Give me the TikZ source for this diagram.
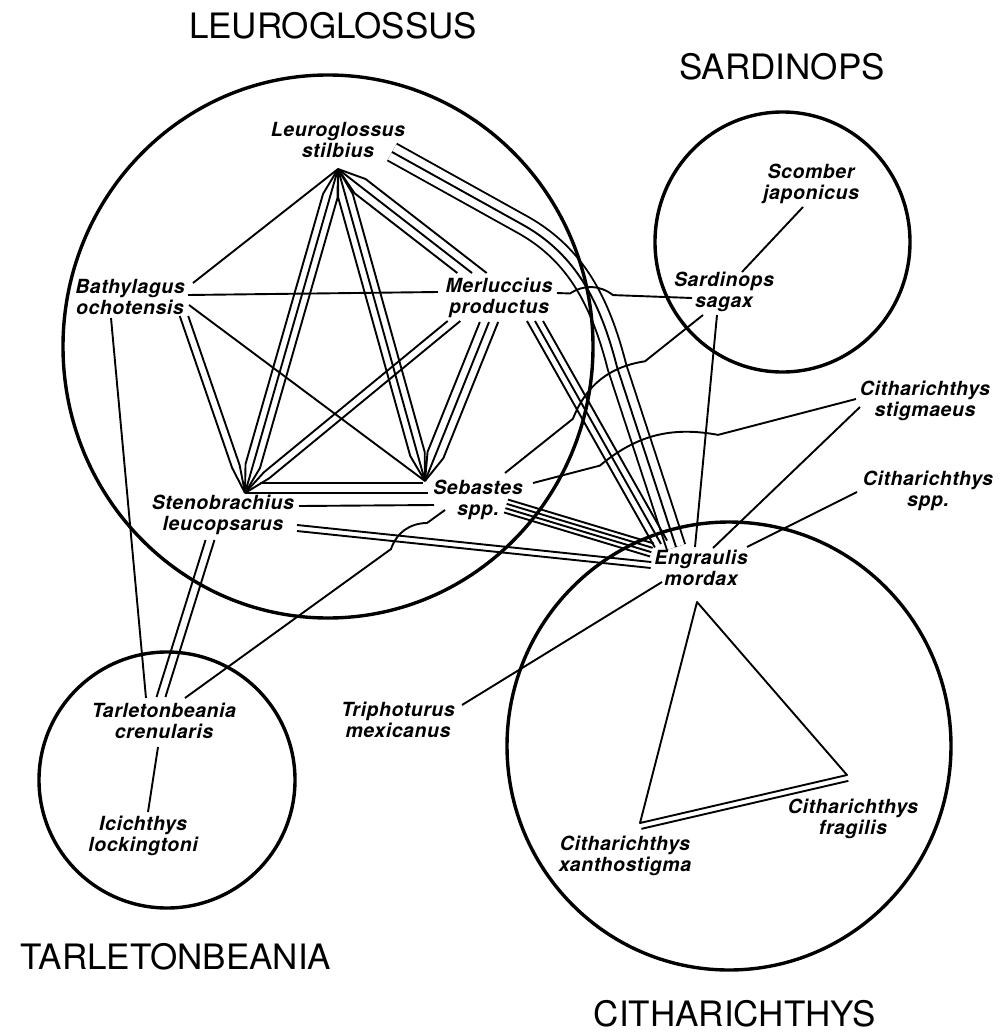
\documentclass[tikz,border=0pt]{standalone}
\usepackage{fontspec}
\setmainfont{TeX Gyre Heros}
\newfontfamily\labfont[LetterSpace=3]{TeX Gyre Heros}
\usetikzlibrary{calc,shapes.geometric}

\tikzset{
  cn/.style={line width=1.9pt, line join=round},
  grp/.style={ellipse, draw, line width=3.4pt, inner sep=0pt},
  lab/.style={font=\labfont\bfseries\itshape\fontsize{19.5}{21}\selectfont, align=center, inner sep=0pt},
  ttl/.style={font=\fontsize{35}{40}\selectfont, inner sep=0pt},
}

% bundle of parallel lines: #1 from, #2 to, #3 number, #4 spacing,
% #5/#6 end type: 0 converge, 1 horizontal cut, 2 vertical cut, 3 square cut
\newcommand\bund[6]{%
  \path (#1); \pgfgetlastxy{\bPX}{\bPY}%
  \path (#2); \pgfgetlastxy{\bQX}{\bQY}%
  \pgfmathsetmacro\bpx{\bPX}\pgfmathsetmacro\bpy{\bPY}%
  \pgfmathsetmacro\bqx{\bQX}\pgfmathsetmacro\bqy{\bQY}%
  \pgfmathsetmacro\bL{veclen((\bqx)-(\bpx),(\bqy)-(\bpy))}%
  \pgfmathsetmacro\bux{((\bqx)-(\bpx))/(\bL)}%
  \pgfmathsetmacro\buy{((\bqy)-(\bpy))/(\bL)}%
  \ifnum#5=0 \def\baP{28}\else\pgfmathsetmacro\baP{0.45*(\bL)}\fi
  \ifnum#6=0 \def\baQ{28}\else\pgfmathsetmacro\baQ{0.45*(\bL)}\fi
  \foreach \bi in {1,...,#3}{%
    \pgfmathsetmacro\bo{(\bi-(#3+1)/2)*(#4)}%
    \pgfmathsetmacro\bnx{-(\buy)*(\bo)}%
    \pgfmathsetmacro\bny{(\bux)*(\bo)}%
    \ifcase#5 \def\bsP{0}\or\pgfmathsetmacro\bsP{-(\bny)/(\buy)}\or\pgfmathsetmacro\bsP{-(\bnx)/(\bux)}\else\def\bsP{0}\fi
    \ifcase#6 \def\bsQ{0}\or\pgfmathsetmacro\bsQ{-(\bny)/(\buy)}\or\pgfmathsetmacro\bsQ{-(\bnx)/(\bux)}\else\def\bsQ{0}\fi
    \ifnum#5=0
      \edef\bSx{\bpx}\edef\bSy{\bpy}%
    \else
      \pgfmathsetmacro\bSx{(\bpx)+(\bnx)+(\bsP)*(\bux)}%
      \pgfmathsetmacro\bSy{(\bpy)+(\bny)+(\bsP)*(\buy)}%
    \fi
    \ifnum#6=0
      \edef\bEx{\bqx}\edef\bEy{\bqy}%
    \else
      \pgfmathsetmacro\bEx{(\bqx)+(\bnx)+(\bsQ)*(\bux)}%
      \pgfmathsetmacro\bEy{(\bqy)+(\bny)+(\bsQ)*(\buy)}%
    \fi
    \pgfmathsetmacro\bMx{(\bpx)+(\bnx)+(\baP)*(\bux)}%
    \pgfmathsetmacro\bMy{(\bpy)+(\bny)+(\baP)*(\buy)}%
    \pgfmathsetmacro\bNx{(\bqx)+(\bnx)-(\baQ)*(\bux)}%
    \pgfmathsetmacro\bNy{(\bqy)+(\bny)-(\baQ)*(\buy)}%
    \draw[cn] (\bSx pt,\bSy pt) -- (\bMx pt,\bMy pt) -- (\bNx pt,\bNy pt) -- (\bEx pt,\bEy pt);
  }%
}

\begin{document}
\begin{tikzpicture}[x=1pt,y=-1pt]
\useasboundingbox (0,0) rectangle (999,1036);

% ---------- titles ----------
\node[ttl] (tLeu) at (333,26) {LEUROGLOSSUS};
\node[ttl] (tSar) at (782,67) {SARDINOPS};
\node[ttl] (tTar) at (176,957) {TARLETONBEANIA};
\node[ttl] (tCit) at (735,1014) {CITHARICHTHYS};

% ---------- species ----------
\node[lab] (LS)  at (338,140) {Leuroglossus\\stilbius};
\node[lab] (BO)  at (130,297) {Bathylagus\\ochotensis};
\node[lab] (MP)  at (499,298) {Merluccius\\productus};
\node[lab] (SS)  at (724,292) {Sardinops\\sagax};
\node[lab] (SJ)  at (811,184) {Scomber\\japonicus};
\node[lab] (CSt) at (925,401) {Citharichthys\\stigmaeus};
\node[lab] (CSp) at (928,491) {Citharichthys\\spp.};
\node[lab] (SeS) at (478,500) {Sebastes\\spp.};
\node[lab] (StL) at (223,515) {Stenobrachius\\leucopsarus};
\node[lab] (EM)  at (701,568) {Engraulis\\mordax};
\node[lab] (TM)  at (398,720) {Triphoturus\\mexicanus};
\node[lab] (TC)  at (164,721) {Tarletonbeania\\crenularis};
\node[lab] (IL)  at (143,836) {Icichthys\\lockingtoni};
\node[lab] (CX)  at (625,856) {Citharichthys\\xanthostigma};
\node[lab] (CF)  at (853,819) {Citharichthys\\fragilis};

% ---------- attachment points ----------
\coordinate (vL) at (338,169);
\coordinate (vSt) at (245,493);
\coordinate (vSe) at (425,481);
\coordinate (bL) at (193,283);
\coordinate (bM) at (188,295);
\coordinate (bSe) at (189,305);
\coordinate (bSt) at (184,316);
\coordinate (bT) at (111,318);
\coordinate (mT) at (472,273);
\coordinate (mL) at (438,292);
\coordinate (mSt) at (454,321);
\coordinate (mSe) at (489,322);
\coordinate (mE) at (535,321);
\coordinate (mR) at (557,293);
\coordinate (stA) at (260,483);
\coordinate (stC) at (299,506);
\coordinate (stE) at (297,528);
\coordinate (stT) at (210,540);
\coordinate (seA) at (423,483);
\coordinate (seB) at (428,493);
\coordinate (seC) at (434,505);
\coordinate (seE) at (506,506);
\coordinate (seS) at (505,473);
\coordinate (seCs) at (533,483);
\coordinate (seT) at (445,510);
\coordinate (eL) at (676,547);
\coordinate (eM) at (661,544);
\coordinate (eSe) at (652,550);
\coordinate (eSt) at (651,565);
\coordinate (eS) at (695,547);
\coordinate (eC) at (713,548);
\coordinate (eCp) at (747,547);
\coordinate (eT) at (662,582);
\coordinate (sM) at (692,298);
\coordinate (sSe) at (703,315);
\coordinate (sE) at (717,315);
\coordinate (sJ) at (742,272);
\coordinate (jS) at (803,207);
\coordinate (cS) at (856,399);
\coordinate (cE) at (860,407);
\coordinate (cpE) at (857,492);
\coordinate (tE) at (462,705);
\coordinate (tB) at (146,698);
\coordinate (tSt) at (161,697);
\coordinate (tSe) at (185,698);
\coordinate (tI) at (158,747);
\coordinate (iT) at (148,812);
\coordinate (vA) at (697,602);
\coordinate (xV) at (640,823);
\coordinate (fV) at (847,775);
\coordinate (lS) at (392,152);
\coordinate (leA) at (525,226);
\coordinate (leB) at (617,367);

% ---------- Leuroglossus -- Engraulis (curved triple) ----------
\draw[cn, double, double distance=17.1pt] (lS) -- (leA) .. controls (575,255) and (600,300) .. (leB) -- (eL);
\draw[cn] (lS) -- (leA) .. controls (575,255) and (600,300) .. (leB) -- (eL);

% ---------- groups ----------
\node[grp, minimum width=530pt, minimum height=543pt] (gLeu) at (328,346.5) {};
\node[grp, minimum width=255pt, minimum height=260pt] (gSar) at (782.5,242) {};
\node[grp, minimum width=256pt, minimum height=256pt] (gTar) at (167,780) {};
\node[grp, minimum width=444pt, minimum height=448pt] (gCit) at (729,746) {};

% ---------- Leuroglossus group ----------
\draw[cn] (vL) -- (bL);
\bund{vL}{vSt}{3}{7.5}{0}{0}
\bund{vL}{vSe}{3}{7.5}{0}{0}
\bund{vL}{mT}{3}{9}{0}{1}
\draw[cn] (bM) -- (mL);
\draw[cn] (bSe) -- (vSe);
\bund{bSt}{vSt}{2}{8}{1}{0}
\bund{mSt}{vSt}{2}{8}{1}{0}
\bund{mSe}{vSe}{3}{8.5}{1}{0}
\draw[cn] (stA) -- (seA);
\draw[cn] (vSt) -- (seB);
\draw[cn] (stC) -- (seC);

% ---------- to Engraulis ----------
\bund{stE}{eSt}{2}{6}{2}{3}
\bund{seE}{eSe}{4}{4.5}{3}{3}
\bund{mE}{eM}{3}{7}{1}{3}
\draw[cn] (sE) -- (eS);
\draw[cn] (eC) -- (cE);
\draw[cn] (eCp) -- (cpE);
\draw[cn] (eT) -- (tE);

% ---------- others ----------
\draw[cn] (sJ) -- (jS);
\draw[cn] (bT) -- (tB);
\bund{stT}{tSt}{2}{8.5}{1}{1}
\draw[cn] (tI) -- (iT);

% ---------- lines with hops ----------
\draw[cn] (mR) -- ($(mR)!0.096!(sM)$) to[bend left=35] ($(mR)!0.415!(sM)$) -- (sM);
\draw[cn] (seS) -- ($(seS)!0.343!(sSe)$) to[bend left=30] ($(seS)!0.707!(sSe)$) -- (sSe);
\draw[cn] (seCs) -- ($(seCs)!0.207!(cS)$) to[bend left=25] ($(seCs)!0.573!(cS)$) -- (cS);
\draw[cn] (seT) -- ($(seT)!0.069!(tSe)$) to[bend right=35] ($(seT)!0.208!(tSe)$) -- (tSe);

% ---------- Citharichthys triangle ----------
\draw[cn] (xV) -- (vA) -- (fV) -- cycle;
\draw[cn] ($(xV)!6pt!-90:(fV)$) -- ($(fV)!6pt!90:(xV)$);
\end{tikzpicture}
\end{document}
